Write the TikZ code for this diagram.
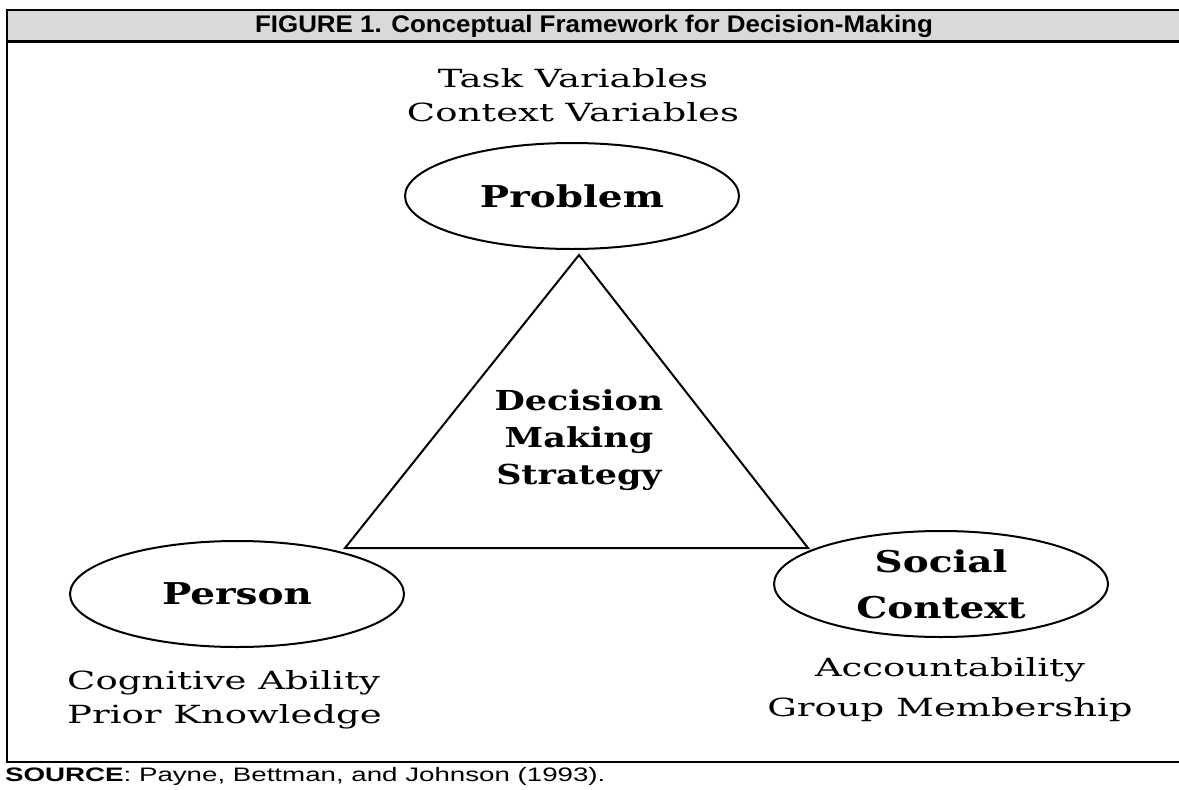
\documentclass[tikz,border=0pt]{standalone}
\usepackage{fontspec}
\setmainfont{DejaVu Serif}
\newfontfamily\headfont[FakeStretch=1.08]{Liberation Sans}
\newfontfamily\sourcefont[FakeStretch=1.42]{Liberation Sans}
\newfontfamily\varfont[FakeStretch=1.48]{DejaVu Serif}
\newfontfamily\topicfont[FakeStretch=1.3]{DejaVu Serif}
\newfontfamily\stratfont[FakeStretch=1.27]{DejaVu Serif}
\usetikzlibrary{shapes.geometric}
\definecolor{bandgray}{HTML}{D9D9D9}

\begin{document}
\begin{tikzpicture}[x=1pt,y=-1pt,
  topic/.style={draw,ellipse,line width=2pt,minimum width=334pt,minimum height=106pt,inner sep=0pt,
    font=\topicfont\bfseries\fontsize{30}{46}\selectfont,align=center},
  var/.style={font=\varfont\fontsize{25}{34}\selectfont,align=center,inner sep=0pt},
  strat/.style={font=\stratfont\bfseries\fontsize{27.5}{37}\selectfont,align=center,inner sep=0pt}]
\useasboundingbox (0,0) rectangle (1179,790);
% frame and title band
\fill[bandgray] (7,10) rectangle (1179,41);
\foreach \y/\w in {10/2.4pt,41/3pt,762/2.4pt}
  \draw[line width=\w] (7,\y) -- (1179,\y);
\draw[line width=2.4pt] (7,9) -- (7,763);
\node (title) at (594,26) {\headfont\bfseries\fontsize{24}{26}\selectfont FIGURE 1. Conceptual Framework for Decision-Making};
\node[anchor=west,inner sep=0pt] (source) at (5,776) {\sourcefont\fontsize{19.5}{22}\selectfont\textbf{SOURCE}: Payne, Bettman, and Johnson (1993).};
% the three factors
\node[topic] (problem) at (572,196) {Problem};
\node[topic] (person) at (237,594) {Person};
\node[topic] (social) at (941,584) {Social\\Context};
\node[var] (problemvars) at (573,95) {Task Variables\\Context Variables};
\node[var,align=left,anchor=west] (personvars) at (67,700) {Cognitive Ability\\Prior Knowledge};
\node[var,font=\varfont\fontsize{25}{40}\selectfont] (socialvars) at (950,690) {Accountability\\Group Membership};
% strategy triangle
\coordinate (apex) at (579,255);
\coordinate (baseleft) at (345,548);
\coordinate (baseright) at (808,548);
\draw[line width=2pt] (apex) -- (baseleft) -- (baseright) -- cycle;
\node[strat] (strategy) at (579,440) {Decision\\Making\\Strategy};
\end{tikzpicture}
\end{document}
